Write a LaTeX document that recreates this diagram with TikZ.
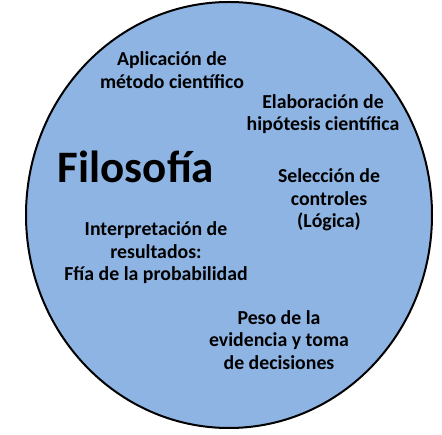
\documentclass[tikz,border=0pt]{standalone}
\usepackage{fontspec}
\setmainfont{Carlito}
\definecolor{circfill}{HTML}{8EB4E3}
\begin{document}
\begin{tikzpicture}[x=1pt,y=-1pt,
  lbl/.style={align=center,font=\bfseries\fontsize{19.8}{22.5}\selectfont,inner sep=0pt},
  big/.style={font=\bfseries\fontsize{45}{50}\selectfont,inner sep=0pt}]
\useasboundingbox (0,0) rectangle (442,435);
\draw[line width=2pt,fill=circfill] (229,215) ellipse [x radius=203,y radius=213];
\node[big] (filo) at (136,167) {Filosofía};
\node[lbl] (aplic) at (172,70) {Aplicación de\\método científico};
\node[lbl] (elab) at (323,114) {Elaboración de\\hipótesis científica};
\node[lbl] (selec) at (329,200) {Selección de\\controles\\(Lógica)};
\node[lbl] (interp) at (156,253) {Interpretación de\\resultados:\\Ffía de la probabilidad};
\node[lbl] (peso) at (279,340) {Peso de la\\evidencia y toma\\de decisiones};
\end{tikzpicture}
\end{document}
